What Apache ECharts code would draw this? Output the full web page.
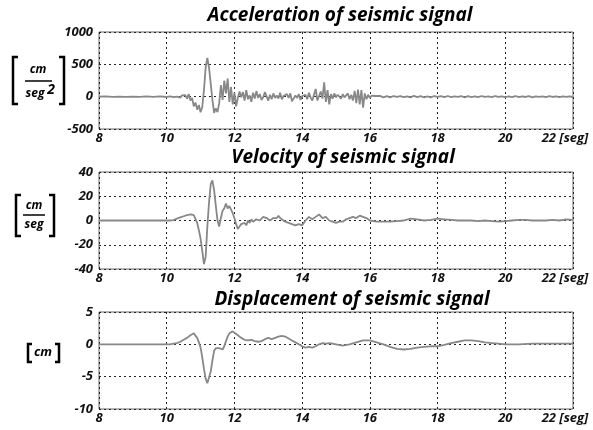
<!DOCTYPE html>
<html>
<head>
<meta charset="utf-8">
<script src="https://cdn.jsdelivr.net/npm/echarts@6/dist/echarts.min.js"></script>
<style>html,body{margin:0;padding:0;background:#fff}#c{width:593px;height:430px}</style>
</head>
<body>
<div id="c"></div>
<script>
// ---------------- data ----------------
const xTicks = [8, 10, 12, 14, 16, 18, 20, 22];
const titles = ['Acceleration of seismic signal', 'Velocity of seismic signal', 'Displacement of seismic signal'];

// Acceleration [cm/seg^2]
const accPre = [[8,0],[8.2,3],[8.4,-2],[8.6,2],[8.8,-3],[9,2],[9.2,-2],[9.4,3],[9.6,-3],[9.8,4],[10,-5],[10.1,6],[10.2,-8],[10.25,5]];
const accActiveStart = 10.3, accActiveStep = 0.05;
const accActive = [0,10,-15,20,-10,25,-30,40,-60,-20,-150,-90,-200,-130,-240,-160,100,450,600,450,200,-50,-250,-180,-240,-100,180,-50,250,50,280,-80,150,-120,60,-150,-20,80,-10,70,-60,100,-40,20,-80,60,-30,90,-20,40,-50,-10,70,60,-60,30,-40,50,-20,20,-30,60,-40,10,0,40,-20,50,-70,-30,20,-20,40,-50,10,-20,30,-40,60,-10,-60,30,120,-60,-90,80,-30,220,-80,100,-120,40,-30,50,-10,30,10,-30,40,-10,20,50,-40,30,-60,90,-100,110,-120,100,-170,50,-40,30,-20,15,-10,10,-5];
const accTailStart = 16.3, accTailStep = 0.1;
const accTail = [12,-10,8,-12,10,-5,8,-8,5,-10,12,-6,8,-10,4,-10,10,-4,8,-8,10,-8,6,-5,10,-10,8,-6,4,-8,10,-5,6,-8,10,-4,5,-8,6,-6,10,-8,4,-5,8,-10,6,-4,5,-6,8,-5,4,-8,6,-4,3,-5];

// Velocity [cm/seg]
const velocity = [[8,0],[10.1,0],[10.15,0.5],[10.2,0.3],[10.25,1],[10.3,1.5],[10.35,2],[10.4,2.5],[10.45,3],[10.5,3.5],[10.55,4],[10.6,4.5],[10.65,4.5],[10.7,5],[10.75,4.5],[10.8,4.5],[10.85,4],[10.9,-2],[10.95,-8],[11,-15],[11.05,-25],[11.1,-36],[11.15,-30],[11.2,-5],[11.25,15],[11.3,30],[11.35,33],[11.4,25],[11.45,12],[11.5,0],[11.55,-5],[11.6,2],[11.65,8],[11.7,10],[11.75,14],[11.8,10],[11.85,12],[11.9,9],[11.95,6],[12,2],[12.05,-3],[12.1,-7],[12.15,-5],[12.2,-3],[12.25,-4],[12.3,-2],[12.35,-4],[12.4,0],[12.45,-2],[12.5,1],[12.55,-1],[12.6,-1],[12.65,1],[12.7,2],[12.75,0],[12.8,1],[12.85,3],[12.9,4],[12.95,2],[13,2],[13.05,0],[13.1,1],[13.15,2],[13.2,3],[13.25,2],[13.3,4],[13.35,2],[13.4,1],[13.5,-1],[13.6,-2],[13.7,-3],[13.8,-4],[13.9,-3],[14,-4],[14.1,0],[14.2,3],[14.3,1],[14.4,3],[14.5,5],[14.6,2],[14.7,3],[14.8,0],[14.9,-1],[15,-2],[15.1,-1],[15.2,-1],[15.3,1],[15.4,2],[15.5,3],[15.6,2],[15.7,4],[15.8,3],[15.9,2],[16,0],[16.2,-1],[16.4,-1],[16.6,-1],[16.8,-0.5],[17,0],[17.2,1.5],[17.4,1],[17.6,0],[17.8,0.5],[18,1.5],[18.2,1],[18.4,0.5],[18.6,0],[18.8,0],[19,0],[19.2,-0.5],[19.4,0],[19.6,-0.5],[19.8,-1],[20,-0.5],[20.2,0],[20.4,0.5],[20.6,0.5],[20.8,0],[21,0],[21.2,0],[21.4,0.5],[21.6,0],[21.8,1],[22,0.5]];

// Displacement [cm]
const displacement = [[8,0],[10,0],[10.1,0],[10.2,0.1],[10.3,0.2],[10.4,0.4],[10.5,0.7],[10.6,1],[10.7,1.4],[10.8,1.7],[10.85,1.5],[10.9,1],[10.95,0.3],[11,-0.5],[11.05,-2],[11.1,-3.8],[11.15,-5.3],[11.2,-6],[11.25,-5.8],[11.3,-4.2],[11.35,-2.5],[11.4,-1],[11.45,-0.6],[11.5,-0.4],[11.55,-0.6],[11.6,-0.5],[11.65,-0.8],[11.7,-0.3],[11.75,0.5],[11.8,1.2],[11.85,1.7],[11.9,2],[11.95,2],[12,1.8],[12.1,1.4],[12.2,1],[12.3,0.7],[12.4,0.6],[12.5,0.7],[12.6,0.5],[12.7,0.4],[12.8,0.5],[12.9,0.8],[13,1],[13.1,0.8],[13.2,1],[13.3,1.2],[13.4,1.3],[13.5,1.2],[13.6,0.9],[13.7,0.6],[13.8,0.3],[13.9,0],[14,-0.3],[14.1,-0.5],[14.2,-0.4],[14.3,-0.5],[14.4,-0.3],[14.5,0],[14.6,0.2],[14.7,0.1],[14.8,0.2],[14.9,0.1],[15,0],[15.2,-0.2],[15.4,0],[15.6,0.3],[15.8,0.6],[16,0.6],[16.2,0.3],[16.4,0],[16.6,-0.4],[16.8,-0.7],[17,-0.8],[17.2,-0.7],[17.4,-0.5],[17.6,-0.4],[17.8,-0.3],[18,-0.3],[18.2,-0.1],[18.4,0.2],[18.6,0.4],[18.8,0.6],[19,0.6],[19.2,0.5],[19.4,0.3],[19.6,0.2],[19.8,0.1],[20,0],[20.4,0],[20.8,0.1],[21.2,0.1],[21.6,0.1],[22,0.1]];

const yRanges = [[-500, 1000, 500], [-40, 40, 20], [-10, 5, 5]];

// ---------------- build ----------------
const acceleration = accPre
  .concat(accActive.map((v, i) => [+(accActiveStart + i * accActiveStep).toFixed(2), v]))
  .concat(accTail.map((v, i) => [+(accTailStart + i * accTailStep).toFixed(2), v]));
const seriesData = [acceleration, velocity, displacement];

const FONT = '"Open Sans"';
const gridTops = [32, 172, 312];
const grids = gridTops.map(t => ({ left: 99, right: 20, top: t, height: 97, show: true, borderColor: '#666', borderWidth: 1, backgroundColor: 'transparent' }));

const labelStyle = { fontFamily: FONT, fontWeight: 'bold', fontStyle: 'italic', fontSize: 13, color: '#111' };
const splitStyle = { show: true, lineStyle: { color: '#222', type: [2, 3], width: 1 } };

const xAxes = gridTops.map((t, i) => ({
  type: 'value', gridIndex: i, min: 8, max: 22, interval: 2,
  axisLine: { show: false }, axisTick: { show: false },
  splitLine: splitStyle,
  axisLabel: Object.assign({}, labelStyle, {
    margin: 3,
    formatter: v => v === 22 ? '{last|22 [seg]}' : String(v),
    rich: { last: Object.assign({}, labelStyle, { padding: [0, 16, 0, 0] }) }
  })
}));
const yAxes = yRanges.map((r, i) => ({
  type: 'value', gridIndex: i, min: r[0], max: r[1], interval: r[2],
  axisLine: { show: false }, axisTick: { show: false },
  splitLine: splitStyle,
  axisLabel: Object.assign({}, labelStyle, { margin: 6, formatter: v => String(v) })
}));

const series = seriesData.map((d, i) => ({
  type: 'line', xAxisIndex: i, yAxisIndex: i, data: d, showSymbol: false,
  lineStyle: { color: '#888888', width: 1.8 }, animation: false
}));

const titleFont = { fontFamily: FONT, fontWeight: 'bold', fontStyle: 'italic', fontSize: 19, fill: '#000' };
const titleCenters = [[340, 16], [343, 158], [352, 300]];
const graphics = titles.map((t, i) => ({
  type: 'text', x: titleCenters[i][0], y: titleCenters[i][1],
  style: Object.assign({ text: t, align: 'center', verticalAlign: 'middle' }, titleFont)
}));

const unitFont = { fontFamily: FONT, fontWeight: 'bold', fontStyle: 'italic', fontSize: 12, fill: '#000' };
function bracket(x0, x1, y0, y1) {
  return { type: 'polyline', shape: { points: [[x1, y0], [x0, y0], [x0, y1], [x1, y1]] }, style: { stroke: '#000', lineWidth: 2.5, fill: null } };
}
function text(x, y, s, size, align) {
  return { type: 'text', x, y, style: Object.assign({}, unitFont, { text: s, fontSize: size || 12, align: align || 'center', verticalAlign: 'middle' }) };
}
function line(x0, x1, y) {
  return { type: 'line', shape: { x1: x0, y1: y, x2: x1, y2: y }, style: { stroke: '#000', lineWidth: 1.5 } };
}
// acceleration unit
graphics.push(bracket(13, 18, 57, 104), bracket(64, 59, 57, 104));
graphics.push(text(38, 70, 'cm'), line(25, 52, 81), text(35, 94, 'seg'), text(51, 90, '2', 14));
// velocity unit
graphics.push(bracket(16, 21, 195, 236), bracket(54, 49, 195, 236));
graphics.push(text(34, 206, 'cm'), line(23, 45, 215), text(34, 225, 'seg'));
// displacement unit
graphics.push(bracket(28, 32, 344, 362), bracket(59, 55, 344, 362));
graphics.push(text(43, 352, 'cm', 13));

const chart = echarts.init(document.getElementById('c'));
chart.setOption({
  animation: false,
  backgroundColor: '#fff',
  grid: grids, xAxis: xAxes, yAxis: yAxes, series,
  graphic: graphics
});
</script>
</body>
</html>
